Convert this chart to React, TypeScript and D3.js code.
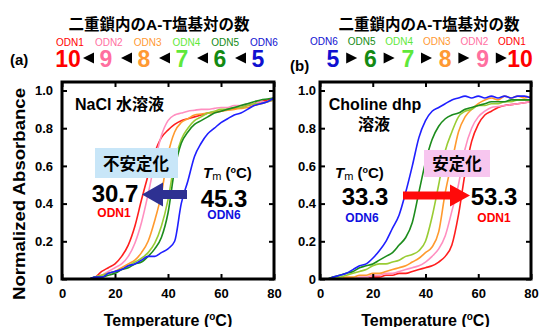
import React, { useEffect, useRef } from 'react';
import * as d3 from 'd3';

// temperature grid (°C)
const temps = [0, 2.5, 5, 7.5, 10, 12.5, 15, 17.5, 20, 22.5, 25, 27.5, 30, 32.5, 35, 37.5, 40,
  42.5, 45, 47.5, 50, 52.5, 55, 57.5, 60, 62.5, 65, 67.5, 70, 72.5, 75, 77.5, 80];

const odnNames = ['ODN1', 'ODN2', 'ODN3', 'ODN4', 'ODN5', 'ODN6'];
const atPairs = [10, 9, 8, 7, 6, 5];
const lineColors = ['#ff1e1e', '#ff8fc0', '#ff9a2e', '#99cc33', '#1c8c1c', '#1f1fff'];
const labelColors = ['#ff0000', '#ff6f9f', '#ff9933', '#5fe83a', '#138a13', '#1010d0'];

// NaCl aqueous solution, ODN1..ODN6
const naclOdn1 = [0, 0, 0, 0, 0, 0.01, 0.04, 0.06, 0.08, 0.12, 0.18, 0.28, 0.42, 0.55, 0.67, 0.75, 0.79, 0.82, 0.84, 0.85, 0.86, 0.87, 0.88, 0.885, 0.89, 0.9, 0.905, 0.91, 0.92, 0.93, 0.94, 0.95, 0.96];
const naclOdn2 = [0, 0, 0, 0, 0, 0.01, 0.02, 0.04, 0.06, 0.08, 0.12, 0.19, 0.3, 0.45, 0.62, 0.76, 0.84, 0.87, 0.88, 0.89, 0.895, 0.9, 0.9, 0.905, 0.91, 0.91, 0.92, 0.92, 0.93, 0.93, 0.94, 0.94, 0.95];
const naclOdn3 = [0, 0, 0, 0, 0, 0.01, 0.02, 0.03, 0.04, 0.06, 0.08, 0.1, 0.14, 0.2, 0.31, 0.45, 0.66, 0.78, 0.83, 0.85, 0.87, 0.875, 0.88, 0.885, 0.89, 0.895, 0.9, 0.905, 0.91, 0.92, 0.93, 0.94, 0.95];
const naclOdn4 = [0, 0, 0, 0, 0, 0.01, 0.02, 0.03, 0.04, 0.05, 0.07, 0.09, 0.11, 0.14, 0.19, 0.28, 0.42, 0.62, 0.74, 0.8, 0.84, 0.86, 0.88, 0.89, 0.9, 0.9, 0.91, 0.91, 0.92, 0.93, 0.93, 0.94, 0.95];
const naclOdn5 = [0, 0, 0, 0, 0, 0.01, 0.01, 0.02, 0.03, 0.05, 0.06, 0.08, 0.09, 0.12, 0.16, 0.22, 0.35, 0.58, 0.72, 0.78, 0.82, 0.84, 0.86, 0.88, 0.89, 0.9, 0.91, 0.92, 0.93, 0.94, 0.95, 0.955, 0.96];
const naclOdn6 = [0, 0, 0, 0, 0, 0.01, 0.01, 0.03, 0.04, 0.05, 0.07, 0.08, 0.1, 0.12, 0.12, 0.14, 0.16, 0.2, 0.4, 0.52, 0.65, 0.72, 0.77, 0.8, 0.83, 0.85, 0.87, 0.88, 0.9, 0.92, 0.93, 0.94, 0.96];

// Choline dhp solution, ODN1..ODN6
const cholOdn1 = [0, 0, 0, 0, 0, 0, 0, 0, 0.01, 0.01, 0.02, 0.02, 0.03, 0.03, 0.04, 0.05, 0.06, 0.07, 0.09, 0.12, 0.18, 0.34, 0.56, 0.73, 0.82, 0.87, 0.89, 0.91, 0.92, 0.925, 0.93, 0.935, 0.94];
const cholOdn2 = [0, 0, 0, 0, 0, 0, 0.01, 0.01, 0.02, 0.02, 0.03, 0.03, 0.04, 0.05, 0.06, 0.07, 0.09, 0.12, 0.16, 0.23, 0.36, 0.5, 0.69, 0.8, 0.86, 0.89, 0.91, 0.915, 0.92, 0.925, 0.93, 0.935, 0.94];
const cholOdn3 = [0, 0, 0, 0, 0.01, 0.01, 0.02, 0.02, 0.03, 0.03, 0.04, 0.05, 0.06, 0.07, 0.09, 0.11, 0.14, 0.17, 0.25, 0.46, 0.62, 0.78, 0.86, 0.9, 0.93, 0.95, 0.96, 0.95, 0.97, 0.96, 0.97, 0.96, 0.97];
const cholOdn4 = [0, 0, 0.01, 0.01, 0.02, 0.03, 0.04, 0.05, 0.07, 0.08, 0.08, 0.09, 0.1, 0.12, 0.13, 0.15, 0.2, 0.33, 0.5, 0.68, 0.78, 0.86, 0.89, 0.9, 0.92, 0.92, 0.93, 0.93, 0.94, 0.94, 0.95, 0.95, 0.95];
const cholOdn5 = [0, 0, 0.01, 0.02, 0.03, 0.04, 0.06, 0.07, 0.08, 0.1, 0.12, 0.14, 0.18, 0.22, 0.3, 0.46, 0.62, 0.74, 0.81, 0.85, 0.87, 0.88, 0.9, 0.91, 0.92, 0.93, 0.94, 0.94, 0.94, 0.95, 0.95, 0.95, 0.95];
const cholOdn6 = [0, 0, 0.01, 0.02, 0.03, 0.05, 0.07, 0.08, 0.11, 0.15, 0.2, 0.27, 0.34, 0.46, 0.6, 0.75, 0.84, 0.89, 0.91, 0.93, 0.95, 0.96, 0.97, 0.96, 0.97, 0.96, 0.97, 0.96, 0.97, 0.96, 0.97, 0.97, 0.96];

const naclCurves = [naclOdn1, naclOdn2, naclOdn3, naclOdn4, naclOdn5, naclOdn6];
const cholCurves = [cholOdn1, cholOdn2, cholOdn3, cholOdn4, cholOdn5, cholOdn6];

const xTicks = [0, 20, 40, 60, 80];
const yTicks = [0, 0.2, 0.4, 0.6, 0.8, 1.0];

const LAT = "'Liberation Sans', Arial, 'Noto Sans CJK JP', sans-serif";

const W = 540, H = 327;
const TOP = 82, BOTTOM = 279;

type Sel = d3.Selection<SVGGElement, unknown, null, undefined>;

function drawPanel(g: Sel, x0: number, x1: number, curves: number[][], labelPad: number) {
  const x = d3.scaleLinear().domain([0, 80]).range([x0, x1]);
  const y = d3.scaleLinear().domain([0, 1.045]).range([BOTTOM, TOP]);

  const id = 'clip' + x0;
  g.append('clipPath').attr('id', id).append('rect')
    .attr('x', x0).attr('y', TOP).attr('width', x1 - x0).attr('height', BOTTOM - TOP);

  const line = d3.line<number>()
    .x((d, i) => x(temps[i]))
    .y(d => y(d))
    .curve(d3.curveMonotoneX);

  g.append('g').attr('clip-path', `url(#${id})`)
    .selectAll('path')
    .data(curves)
    .enter()
    .append('path')
    .attr('d', d => line(d))
    .attr('fill', 'none')
    .attr('stroke', (d, i) => lineColors[i])
    .attr('stroke-width', 1.6);

  const styleAxis = (a: Sel) => {
    a.select('.domain').remove();
    a.selectAll('line').attr('stroke', '#000').attr('stroke-width', 2);
    a.selectAll('text')
      .attr('fill', '#000')
      .style('font-family', LAT)
      .style('font-weight', 'bold')
      .style('font-size', '13px');
  };

  g.append('g').attr('transform', `translate(${x0},0)`)
    .call(d3.axisLeft(y).tickValues(yTicks).tickSize(-5).tickPadding(labelPad)
      .tickFormat(d => (+d === 0 ? '0' : d3.format('.1f')(+d))))
    .call(styleAxis);
  g.append('g').attr('transform', `translate(${x1},0)`)
    .call(d3.axisRight(y).tickValues(yTicks).tickSize(-5).tickFormat(() => ''))
    .call(styleAxis);
  g.append('g').attr('transform', `translate(0,${BOTTOM})`)
    .call(d3.axisBottom(x).tickValues(xTicks).tickSize(-5).tickPadding(10).tickFormat(d3.format('d')))
    .call(styleAxis);
  g.append('g').attr('transform', `translate(0,${TOP})`)
    .call(d3.axisTop(x).tickValues(xTicks).tickSize(-5).tickFormat(() => ''))
    .call(styleAxis);

  g.append('rect')
    .attr('x', x0).attr('y', TOP).attr('width', x1 - x0).attr('height', BOTTOM - TOP)
    .attr('fill', 'none').attr('stroke', '#000').attr('stroke-width', 3);

  // x-axis title
  const t = g.append('text')
    .attr('x', (x0 + x1) / 2).attr('y', 326)
    .attr('text-anchor', 'middle')
    .style('font-family', LAT).style('font-weight', 'bold').style('font-size', '16px');
  t.append('tspan').text('Temperature (');
  t.append('tspan').text('o').attr('dy', -6).style('font-size', '10px');
  t.append('tspan').text('C)').attr('dy', 6);
}

function txt(g: Sel, s: string, x: number, y: number, size: number, opts: { color?: string, anchor?: string, weight?: string } = {}) {
  return g.append('text')
    .attr('x', x).attr('y', y)
    .attr('text-anchor', opts.anchor || 'middle')
    .attr('fill', opts.color || '#000')
    .style('font-family', LAT)
    .style('font-weight', opts.weight || 'bold')
    .style('font-size', size + 'px')
    .text(s);
}

function tmLabel(g: Sel, x: number, y: number) {
  const t = g.append('text').attr('x', x).attr('y', y)
    .style('font-family', LAT).style('font-weight', 'bold').style('font-size', '15px');
  t.append('tspan').text('T').style('font-style', 'italic');
  t.append('tspan').text('m').attr('dy', 2).style('font-size', '11px').style('font-weight', 'normal');
  t.append('tspan').text(' (').attr('dy', -2);
  t.append('tspan').text('o').attr('dy', -5).style('font-size', '9px');
  t.append('tspan').text('C)').attr('dy', 5);
}

function arrow(g: Sel, tail: number, headBase: number, tip: number, cy: number, body: number, head: number, color: string) {
  const p = d3.path();
  p.moveTo(tail, cy - body);
  p.lineTo(headBase, cy - body);
  p.lineTo(headBase, cy - head);
  p.lineTo(tip, cy);
  p.lineTo(headBase, cy + head);
  p.lineTo(headBase, cy + body);
  p.lineTo(tail, cy + body);
  p.closePath();
  g.append('path').attr('d', p.toString()).attr('fill', color);
}

// small solid triangle; dir = -1 points left, +1 points right
function tri(g: Sel, cx: number, cy: number, dir: number) {
  const w = 5.5, h = 5.5;
  const p = d3.path();
  p.moveTo(cx + dir * w, cy);
  p.lineTo(cx - dir * w, cy - h);
  p.lineTo(cx - dir * w, cy + h);
  p.closePath();
  g.append('path').attr('d', p.toString()).attr('fill', '#000');
}

const App = () => {
  const ref = useRef<SVGSVGElement>(null);

  useEffect(() => {
    const svg = d3.select(ref.current);
    svg.selectAll('*').remove();
    const g = svg.append('g') as unknown as Sel;

    g.append('rect').attr('width', W).attr('height', H).attr('fill', '#fff');

    drawPanel(g, 62, 274, naclCurves, 9);
    drawPanel(g, 320, 531, cholCurves, 4);

    // y-axis title
    g.append('text')
      .attr('transform', 'translate(25,194) rotate(-90)')
      .attr('text-anchor', 'middle')
      .attr('textLength', 212)
      .attr('lengthAdjust', 'spacingAndGlyphs')
      .style('font-family', LAT).style('font-weight', 'bold').style('font-size', '16px')
      .text('Normalized Absorbance');

    // headers
    txt(g, '二重鎖内のA-T塩基対の数', 159, 30, 15.5);
    txt(g, '二重鎖内のA-T塩基対の数', 429, 30, 15.5);
    txt(g, '(a)', 10, 65, 15, { anchor: 'start' });
    txt(g, '(b)', 290, 71, 15, { anchor: 'start' });

    // left row: ODN1 .. ODN6
    const numL = d3.scalePoint<string>().domain(odnNames).range([68, 258]);
    const labL = d3.scalePoint<string>().domain(odnNames).range([70, 264]);
    odnNames.forEach((n, i) => {
      txt(g, n, labL(n)!, 46, 10, { color: labelColors[i], weight: 'normal' });
      txt(g, String(atPairs[i]), numL(n)!, 67, 23, { color: labelColors[i] });
      if (i < 5) tri(g, (numL(n)! + numL(odnNames[i + 1])!) / 2 + 1.5, 58, -1);
    });

    // right row: ODN6 .. ODN1
    const rev = odnNames.slice().reverse();
    const numR = d3.scalePoint<string>().domain(rev).range([333, 520]);
    const labR = d3.scalePoint<string>().domain(rev).range([324, 512]);
    rev.forEach((n, i) => {
      const k = odnNames.indexOf(n);
      txt(g, n, labR(n)!, 45, 10, { color: labelColors[k], weight: 'normal' });
      txt(g, String(atPairs[k]), numR(n)!, 67, 23, { color: labelColors[k] });
      if (i < 5) tri(g, (numR(n)! + numR(rev[i + 1])!) / 2, 58, 1);
    });

    // NaCl panel annotations
    txt(g, 'NaCl 水溶液', 75, 110, 16, { anchor: 'start' });
    g.append('rect').attr('x', 95).attr('y', 148).attr('width', 83).attr('height', 30).attr('fill', '#c8e6f8');
    txt(g, '不安定化', 136, 170, 16.5);
    arrow(g, 187, 163, 142, 194.5, 4.5, 12, '#2e3192');
    txt(g, '30.7', 115, 202, 24);
    txt(g, 'ODN1', 114, 217, 12, { color: '#ff0000' });
    tmLabel(g, 203, 178);
    txt(g, '45.3', 224, 207, 24);
    txt(g, 'ODN6', 224, 219, 12, { color: '#1010e0' });

    // Choline dhp panel annotations
    txt(g, 'Choline dhp', 375, 110, 16);
    txt(g, '溶液', 374, 130, 16);
    g.append('rect').attr('x', 424).attr('y', 150).attr('width', 66).attr('height', 27).attr('fill', '#f7c6ef');
    txt(g, '安定化', 457, 170, 16.5);
    tmLabel(g, 335, 178);
    txt(g, '33.3', 365, 205, 24);
    txt(g, 'ODN6', 362, 222, 12, { color: '#1010e0' });
    arrow(g, 403, 450, 470, 195.5, 4, 11, '#ff0a0a');
    txt(g, '53.3', 494, 205, 24);
    txt(g, 'ODN1', 494, 222, 12, { color: '#ff0000' });
  }, []);

  return (
    <svg ref={ref} width={W} height={H}
      style={{ position: 'absolute', left: 0, top: 0, background: '#fff' }} />
  );
};

export default App;
